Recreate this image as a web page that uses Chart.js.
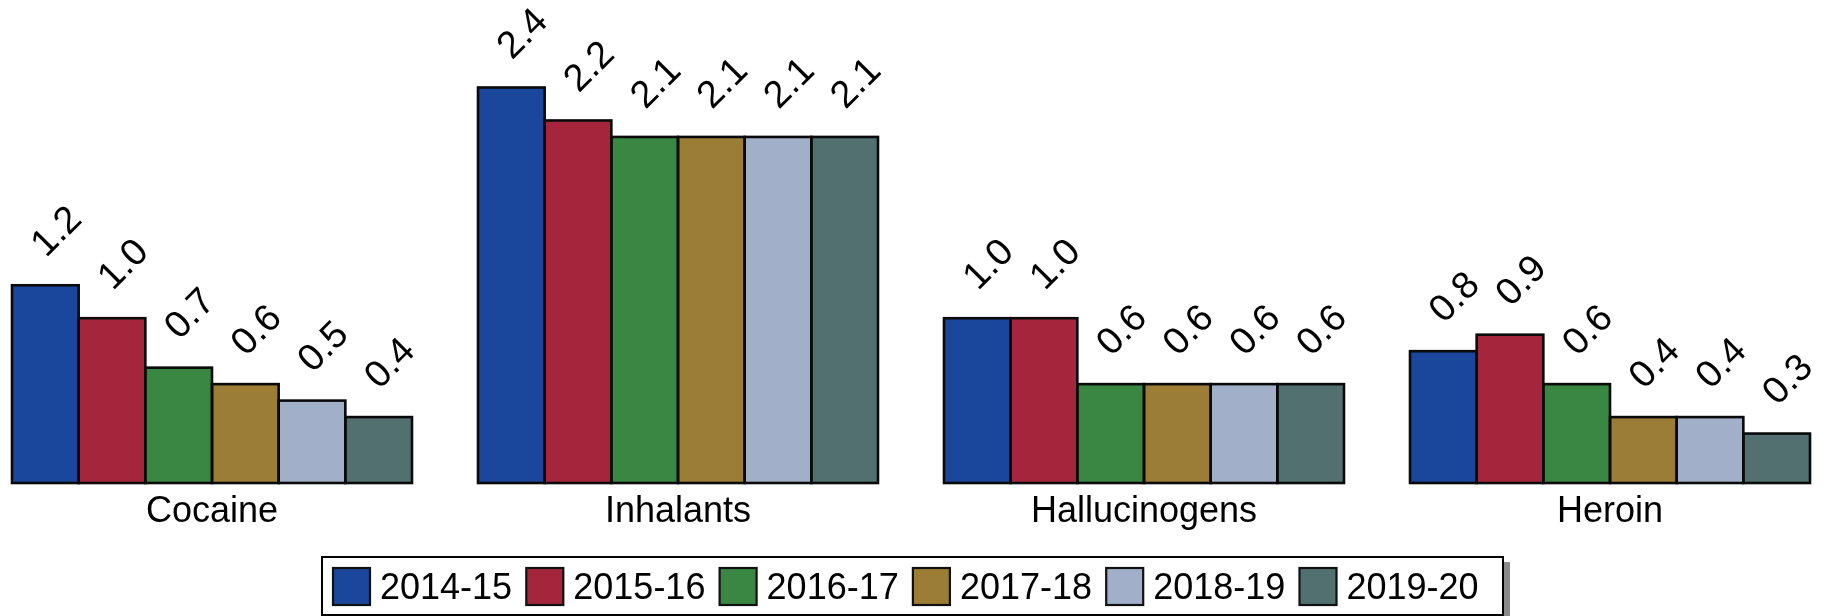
<!DOCTYPE html>
<html>
<head>
<meta charset="utf-8">
<script src="https://cdn.jsdelivr.net/npm/chart.js@4/dist/chart.umd.min.js"></script>
<style>
  html, body { margin: 0; padding: 0; background: #ffffff; }
  #wrap { width: 1828px; height: 616px; }
</style>
</head>
<body>
<div id="wrap"><canvas id="c" width="1828" height="616"></canvas></div>
<script>
const categories = ['Cocaine', 'Inhalants', 'Hallucinogens', 'Heroin'];
const seriesLabels = ['2014-15', '2015-16', '2016-17', '2017-18', '2018-19', '2019-20'];
const v2014_15 = [1.2, 2.4, 1.0, 0.8];
const v2015_16 = [1.0, 2.2, 1.0, 0.9];
const v2016_17 = [0.7, 2.1, 0.6, 0.6];
const v2017_18 = [0.6, 2.1, 0.6, 0.4];
const v2018_19 = [0.5, 2.1, 0.6, 0.4];
const v2019_20 = [0.4, 2.1, 0.6, 0.3];
const seriesColors = ['#1a479b', '#a5263c', '#398743', '#9b7d36', '#a1b0c8', '#51706f'];

const seriesValues = [v2014_15, v2015_16, v2016_17, v2017_18, v2018_19, v2019_20];
const FONT = '"Liberation Sans", Arial, Helvetica, sans-serif';

const datasets = seriesValues.map((vals, i) => ({
  label: seriesLabels[i],
  data: vals,
  backgroundColor: seriesColors[i],
  borderWidth: 0,
  inflateAmount: 0,
  barPercentage: 1.0,
  categoryPercentage: 400 / 466,
  clip: false
}));

// black outlines stroked on the bar edges (shared edges drawn once)
const barOutlines = {
  id: 'barOutlines',
  afterDatasetsDraw(chart) {
    const ctx = chart.ctx;
    ctx.save();
    ctx.strokeStyle = '#0a0a0a';
    ctx.lineWidth = 2.6;
    chart.data.datasets.forEach((ds, di) => {
      const meta = chart.getDatasetMeta(di);
      meta.data.forEach((bar) => {
        const p = bar.getProps(['x', 'y', 'base', 'width'], true);
        const l = p.x - p.width / 2;
        ctx.strokeRect(l, p.y, p.width, p.base - p.y);
      });
    });
    ctx.restore();
  }
};

const valueLabels = {
  id: 'valueLabels',
  afterDatasetsDraw(chart) {
    const ctx = chart.ctx;
    ctx.save();
    ctx.font = '38px ' + FONT;
    ctx.fillStyle = '#000000';
    ctx.textAlign = 'center';
    ctx.textBaseline = 'middle';
    chart.data.datasets.forEach((ds, di) => {
      const meta = chart.getDatasetMeta(di);
      meta.data.forEach((bar, i) => {
        const v = ds.data[i];
        ctx.save();
        ctx.translate(bar.x, bar.y);
        ctx.rotate(-Math.PI / 4);
        ctx.fillText(v.toFixed(1), 46, -29);
        ctx.restore();
      });
    });
    ctx.restore();
  }
};

const boxLegend = {
  id: 'boxLegend',
  afterDraw(chart) {
    const ctx = chart.ctx;
    const left = 322, top = 557, right = 1503, bottom = 615;
    ctx.save();
    ctx.fillStyle = '#8a8a8a';
    ctx.fillRect(right, top + 5, 7, bottom - top + 10);
    ctx.fillRect(left + 5, bottom, right - left + 2, 7);
    ctx.fillStyle = '#ffffff';
    ctx.fillRect(left, top, right - left, bottom - top);
    ctx.strokeStyle = '#000000';
    ctx.lineWidth = 2;
    ctx.strokeRect(left, top, right - left, bottom - top);
    ctx.font = '36px ' + FONT;
    ctx.textAlign = 'left';
    ctx.textBaseline = 'alphabetic';
    chart.data.datasets.forEach((ds, i) => {
      const x0 = 333 + i * 193.3;
      ctx.fillStyle = ds.backgroundColor;
      ctx.fillRect(x0, 568, 37, 37);
      ctx.strokeStyle = '#111111';
      ctx.lineWidth = 2.2;
      ctx.strokeRect(x0, 568, 37, 37);
      ctx.fillStyle = '#000000';
      ctx.fillText(ds.label, x0 + 47, 598.5);
    });
    ctx.restore();
  }
};

new Chart(document.getElementById('c'), {
  type: 'bar',
  data: { labels: categories, datasets: datasets },
  options: {
    responsive: false,
    animation: false,
    devicePixelRatio: 1,
    layout: { padding: { left: 212, right: 218, top: 21.6, bottom: 73 } },
    plugins: {
      legend: { display: false },
      tooltip: { enabled: false }
    },
    scales: {
      x: {
        offset: false,
        grid: { display: false, drawTicks: false },
        border: { display: false },
        ticks: {
          color: '#000000',
          padding: 7,
          maxRotation: 0,
          autoSkip: false,
          font: { family: FONT, size: 36 }
        },
        afterFit(scale) { scale.height = 60; }
      },
      y: {
        display: false,
        min: 0,
        max: 2.8
      }
    }
  },
  plugins: [barOutlines, valueLabels, boxLegend]
});
</script>
</body>
</html>
